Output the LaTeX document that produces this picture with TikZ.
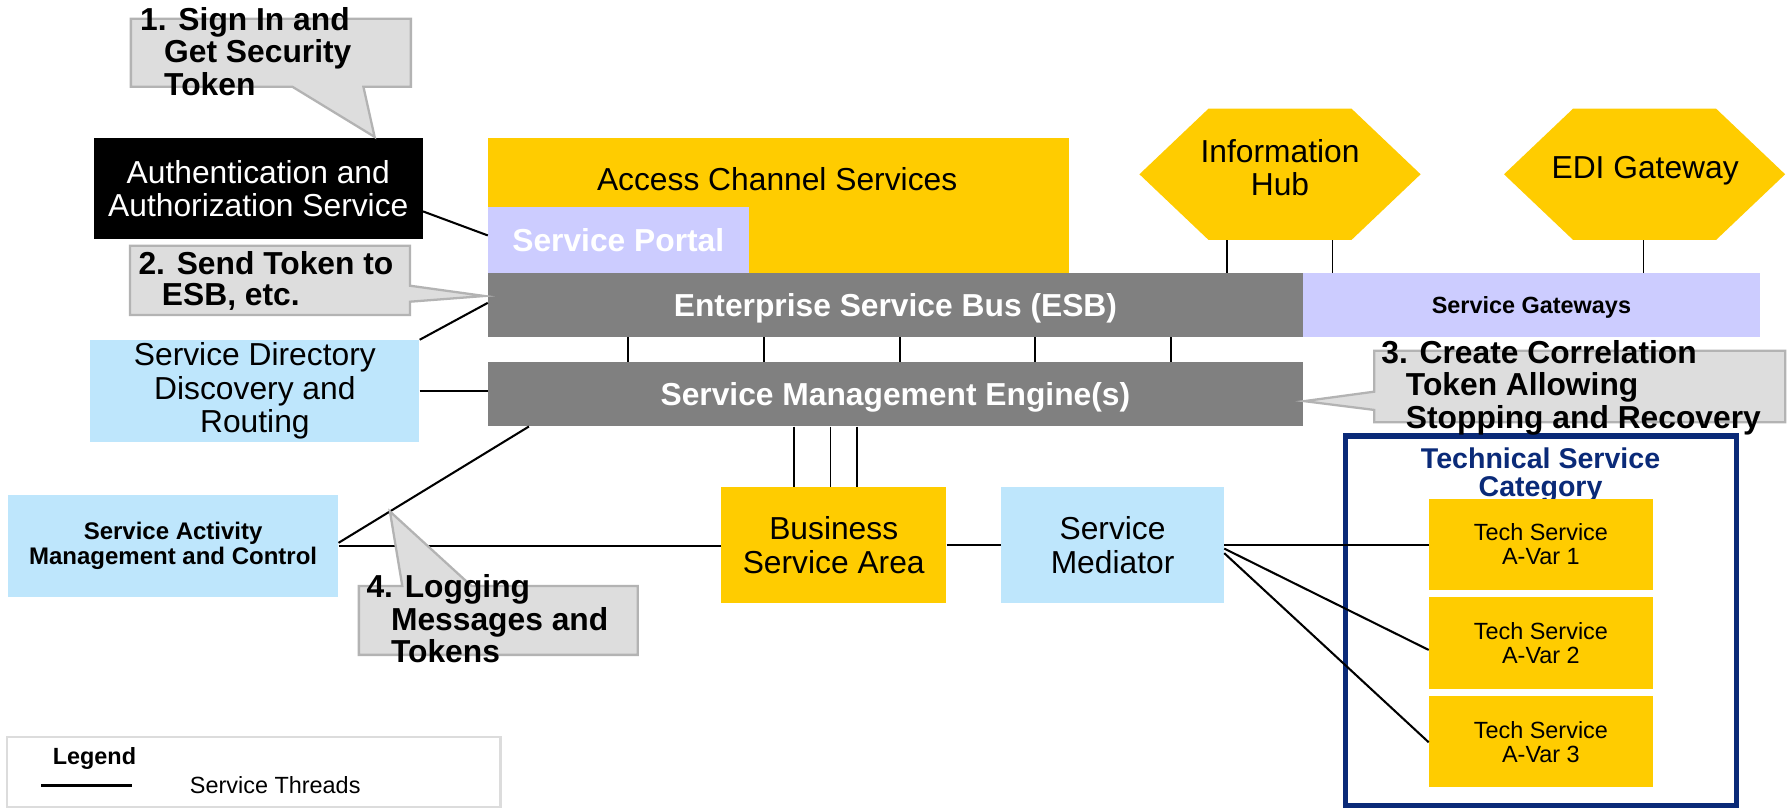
\documentclass[tikz,border=0pt]{standalone}
\usepackage{fontspec}
\setmainfont{Liberation Sans}
\usetikzlibrary{calc}
\definecolor{ayellow}{HTML}{FFCC00}
\definecolor{alblue}{HTML}{BEE6FC}
\definecolor{alav}{HTML}{CCCCFF}
\definecolor{agray}{HTML}{808080}
\definecolor{acfill}{HTML}{DDDDDD}
\definecolor{acline}{HTML}{B3B3B3}
\definecolor{anavy}{HTML}{0A2A78}
\definecolor{alegline}{HTML}{DCDCDC}
\begin{document}
\begin{tikzpicture}[x=1pt,y=-1pt,
  blk/.style={rectangle, inner sep=0pt, align=center, text=black},
  fbig/.style={font=\fontsize{27.8}{29}\selectfont},
  fbigb/.style={font=\bfseries\fontsize{27.8}{29}\selectfont},
  fsmall/.style={font=\fontsize{20.5}{21}\selectfont},
  fsmallb/.style={font=\bfseries\fontsize{21}{22}\selectfont},
  oneline/.style={text height=19.9pt, text depth=0pt},
  wire/.style={draw=black, line width=1.8pt},
  twire/.style={draw=black, line width=1.5pt},
  callout/.style={fill=acfill, draw=acline, line width=2pt, line join=miter},
  ctext/.style={anchor=base west, inner sep=0pt, font=\bfseries\fontsize{27.8}{29}\selectfont},
  hexa/.style={rectangle, inner sep=0pt,
    path picture={\fill[ayellow] (path picture bounding box.west)
      -- ($(path picture bounding box.north west)!0.246!(path picture bounding box.north east)$)
      -- ($(path picture bounding box.north west)!0.754!(path picture bounding box.north east)$)
      -- (path picture bounding box.east)
      -- ($(path picture bounding box.south west)!0.754!(path picture bounding box.south east)$)
      -- ($(path picture bounding box.south west)!0.246!(path picture bounding box.south east)$)
      -- cycle;}},
]
\useasboundingbox (0,0) rectangle (1568,708);
\fill[white] (0,0) rectangle (1568,708);

% top blocks
\node[blk, fill=ayellow, minimum width=508pt, minimum height=118pt] (acs) at (681,180) {};
\node[fbig, inner sep=0pt, oneline] (acslbl) at (680,157) {Access Channel Services};
\node[blk, fill=alav, text=white, fbigb, oneline, minimum width=228pt, minimum height=58pt] (portal) at (541,210) {Service Portal};
\node[blk, fill=agray, text=white, fbigb, oneline, minimum width=713pt, minimum height=56pt] (esb) at (783.5,267) {Enterprise Service Bus (ESB)};
\node[blk, fill=alav, font=\bfseries\fontsize{20.5}{21}\selectfont, text height=14.6pt, text depth=0pt, minimum width=400pt, minimum height=56pt] (gw) at (1340,267) {Service Gateways};
\node[blk, fill=agray, text=white, fbigb, oneline, minimum width=713pt, minimum height=56pt] (sme) at (783.5,345) {Service Management Engine(s)};

% hexagons
\node[hexa, minimum width=246pt, minimum height=115pt] (hub) at (1120,152.5) {};
\node[fbig, align=center, inner sep=0pt] (hubtxt) at (1120,146.5) {Information\\Hub};
\node[hexa, minimum width=246pt, minimum height=115pt] (edi) at (1439,152.5) {};
\node[fbig, inner sep=0pt, oneline] (editxt) at (1439.5,146) {EDI Gateway};

% left blocks
\node[blk, fill=black, text=white, fbig, minimum width=288pt, minimum height=88pt] (auth) at (226,165) {Authentication and\\Authorization Service};
\node[blk, fill=alblue, fbig, minimum width=288pt, minimum height=89pt] (sd) at (223,342) {Service Directory\\Discovery and\\Routing};
\node[blk, fill=alblue, fsmallb, minimum width=289pt, minimum height=89pt] (sa) at (151.5,477.5) {Service Activity\\Management and Control};

% middle blocks
\node[blk, fill=ayellow, fbig, minimum width=197pt, minimum height=102pt] (bsa) at (729.5,477) {Business\\Service Area};
\node[blk, fill=alblue, fbig, minimum width=195pt, minimum height=102pt] (sm) at (973.5,477) {Service\\Mediator};

% technical service category
\node[draw=anavy, line width=4.4pt, minimum width=342pt, minimum height=323.5pt, inner sep=0pt] (tsc) at (1348.5,543.25) {};
\node[align=center, inner sep=0pt, text=anavy, font=\bfseries\fontsize{25}{24.7}\selectfont] (tsctitle) at (1348,416) {Technical Service\\Category};
\node[blk, fill=ayellow, fsmall, minimum width=196pt, minimum height=79.6pt] (tech1) at (1348.3,476.4) {Tech Service\\A-Var 1};
\node[blk, fill=ayellow, fsmall, minimum width=196pt, minimum height=80.2pt] (tech2) at (1348.3,562.4) {Tech Service\\A-Var 2};
\node[blk, fill=ayellow, fsmall, minimum width=196pt, minimum height=80pt] (tech3) at (1348.3,649) {Tech Service\\A-Var 3};

% legend
\node[draw=alegline, line width=2pt, minimum width=432pt, minimum height=61pt, inner sep=0pt] (legend) at (222,675.5) {};
\node[anchor=base west, inner sep=0pt, font=\bfseries\fontsize{20.5}{21}\selectfont] (legtitle) at (46,668.5) {Legend};
\node[anchor=base west, inner sep=0pt, fsmall] (legtxt) at (166,694) {Service Threads};
\coordinate (legA) at (36,687.4);
\coordinate (legB) at (115.6,687.4);
\draw[draw=black, line width=2.3pt] (legA) -- (legB);

% connectors
\draw[wire] ($(auth.east)+(0,20)$) -- ($(portal.west)+(0,-4)$);
\draw[wire] (sd.north east) -- ($(esb.west)+(0,-2)$);
\draw[wire] (sd.east) -- (sd.east -| sme.west);
\coordinate (saA) at ($(sa.east)+(0,-2.5)$);
\coordinate (smeB) at ($(sme.south west)+(36,0)$);
\draw[wire] (saA) -- (smeB);
\draw[wire] (sa.east) -- (sa.east -| bsa.west);
\foreach \dx in {123,242,361,479,598} {
  \draw[twire] ($(esb.south west)+(\dx,0)$) -- ($(sme.north west)+(\dx,0)$);
}
\foreach \dx in {268,300,323} {
  \draw[twire] ($(sme.south west)+(\dx,0)$) -- ($(sme.south west)+(\dx,53)$);
}
\coordinate (h1) at ($(hub.south)+(-46.5,0)$);
\coordinate (h2) at ($(hub.south)+(46,0)$);
\coordinate (e1) at ($(edi.south)+(-1,0)$);
\draw[twire] (h1) -- (h1 |- esb.north);
\draw[twire] (h2) -- (h2 |- esb.north);
\draw[twire] (e1) -- (e1 |- gw.north);
\draw[wire] (bsa.east) -- (sm.west);
\draw[wire] (sm.east) -- (sm.east -| tech1.west);
\draw[wire] ($(sm.east)+(0,3)$) -- ($(tech2.west)+(0,6.3)$);
\draw[wire] ($(sm.east)+(0,7)$) -- ($(tech3.west)+(0,0.5)$);

% callouts
\coordinate (tip1) at ($(auth.north west)+(246,-1)$);
\coordinate (tip2) at ($(esb.west)+(-3,-8)$);
\coordinate (tip3) at ($(sme.east)+(1,6)$);
\coordinate (tip4) at ($(saA)!0.27!(smeB)$);
\draw[callout] (114.5,16.5) -- (359.5,16.5) -- (359.5,76) -- (318,76) -- (tip1) -- (256,76) -- (114.5,76) -- cycle;
\draw[callout] (113.7,215) -- (358.7,215) -- (358.7,250) -- (tip2) -- (358.7,264) -- (358.7,275.6) -- (113.7,275.6) -- cycle;
\draw[callout] (1202.5,307) -- (1562,307) -- (1562,369.5) -- (1202.5,369.5) -- (1202.5,358.7) -- (tip3) -- (1202.5,342.7) -- cycle;
\draw[callout] (314,512.7) -- (352,512.7) -- (tip4) -- (412.5,512.7) -- (558,512.7) -- (558,573) -- (314,573) -- cycle;

\node[ctext] (c1a) at (122.5,26.5) {1. Sign In and};
\node[ctext] (c1b) at (143.5,55) {Get Security};
\node[ctext] (c1c) at (143.5,83.5) {Token};
\node[ctext] (c2a) at (121,240) {2. Send Token to};
\node[ctext] (c2b) at (141.5,267) {ESB, etc.};
\node[ctext] (c3a) at (1208.5,318) {3. Create Correlation};
\node[ctext] (c3b) at (1230,346.5) {Token Allowing};
\node[ctext] (c3c) at (1230,375) {Stopping and Recovery};
\node[ctext] (c4a) at (320.5,523) {4. Logging};
\node[ctext] (c4b) at (342,551.5) {Messages and};
\node[ctext] (c4c) at (342,580) {Tokens};
\end{tikzpicture}
\end{document}
